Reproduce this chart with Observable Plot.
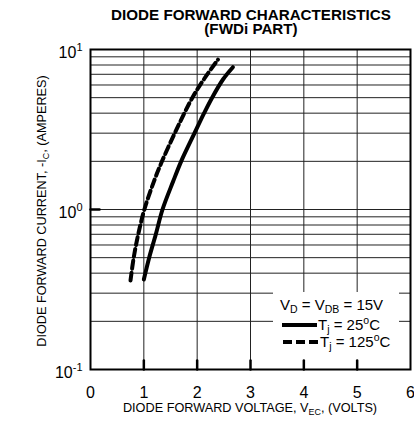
<!DOCTYPE html>
<html><head><meta charset="utf-8">
<script src="https://cdn.jsdelivr.net/npm/d3@7"></script>
<script src="https://cdn.jsdelivr.net/npm/@observablehq/plot@0.6"></script>
<style>
body{margin:0;background:#fff;}
#chart{width:414px;height:428px;}
svg text{font-family:"Liberation Sans", Arial, sans-serif;}
</style></head><body><div id="chart"></div>
<script>
// Data
const vSolid = [1.00, 1.10, 1.225, 1.35, 1.55, 1.70, 1.95, 2.13, 2.28, 2.49, 2.67];
const iSolid = [0.365, 0.5, 0.7, 1.0, 1.5, 2, 3, 4, 5, 6.54, 7.75];
const vDash  = [0.75, 0.81, 0.895, 1.01, 1.19, 1.34, 1.58, 1.76, 1.91, 2.13, 2.39];
const iDash  = [0.36, 0.5, 0.7, 1.0, 1.5, 2, 3, 4, 5, 6.54, 8.65];

const xTicks = [0, 1, 2, 3, 4, 5, 6];
const xGrid = [1, 2, 3, 4, 5];
const yTicks = [0.1, 1, 10];
const yGrid = [0.2, 0.3, 0.4, 0.5, 0.6, 0.7, 0.8, 0.9, 1, 2, 3, 4, 5, 6, 7, 8, 9];
const xTickMarks = [1, 2, 3, 4, 5];
const yTickMarks = [1];

const titleLines = ["DIODE FORWARD CHARACTERISTICS", "(FWDi PART)"];
const xLabel = "DIODE FORWARD VOLTAGE, V_EC, (VOLTS)";
const yLabel = "DIODE FORWARD CURRENT, -I_C, (AMPERES)";
const legendHeader = "V_D = V_DB = 15V";
const seriesNames = ["T_j = 25°C", "T_j = 125°C"];

const solid = vSolid.map((v, k) => ({v, i: iSolid[k]}));
const dashed = vDash.map((v, k) => ({v, i: iDash[k]}));

const tickShape = {draw(ctx, l) { ctx.moveTo(0, 0); ctx.lineTo(0, -l); }};

const plot = Plot.plot({
  width: 414, height: 428,
  marginTop: 49, marginBottom: 59, marginLeft: 90, marginRight: 4,
  style: {fontFamily: "Liberation Sans, Arial, sans-serif", background: "#fff", color: "#000"},
  x: {domain: [0, 6]},
  y: {type: "log", domain: [0.1, 10]},
  marks: [
    Plot.ruleY(yGrid, {stroke: "#222", strokeWidth: 1}),
    Plot.ruleX(xGrid, {stroke: "#222", strokeWidth: 1}),
    Plot.line(solid, {x: "v", y: "i", stroke: "black", strokeWidth: 4, curve: "catmull-rom"}),
    Plot.line(dashed, {x: "v", y: "i", stroke: "black", strokeWidth: 4, strokeDasharray: "8,4", curve: "catmull-rom"}),
    Plot.frame({stroke: "black", strokeWidth: 2}),
    Plot.vector(xTickMarks, {x: d => d, frameAnchor: "bottom", length: 9, rotate: 0, anchor: "start", shape: tickShape, stroke: "black", strokeWidth: 2.5}),
    Plot.vector(yTickMarks, {y: d => d, frameAnchor: "left", length: 9, rotate: 90, anchor: "start", shape: tickShape, stroke: "black", strokeWidth: 2.5}),
    Plot.axisX(xTicks, {tickSize: 0, tickPadding: 17, fontSize: 16, label: null, tickFormat: d => `${d}`}),
    Plot.axisY(yTicks, {tickSize: 0, tickPadding: 8, fontSize: 16, label: null, dy: 3, tickFormat: d => "10^" + Math.round(Math.log10(d))})
  ]
});
document.getElementById("chart").appendChild(plot);

const svg = d3.select(plot);
// superscript exponents on y tick labels
svg.selectAll("text").each(function() {
  const t = this.textContent;
  if (t.startsWith("10^")) {
    const s = d3.select(this);
    s.text("10");
    s.append("tspan").attr("dy", -7).attr("font-size", 11).text(t.slice(3));
  }
});

// helper: write text with _X subscripts and ° as superscript o
function richText(sel, str, size) {
  const parts = str.split(/(_[A-Za-z]+|°)/).filter(p => p.length);
  let shift = 0;
  for (const p of parts) {
    if (p.startsWith("_")) {
      sel.append("tspan").attr("dy", 3 - shift).attr("font-size", size * 0.7).text(p.slice(1));
      shift = 3;
    } else if (p === "°") {
      sel.append("tspan").attr("dy", -6 - shift).attr("font-size", size * 0.7).text("o");
      shift = -6;
    } else {
      sel.append("tspan").attr("dy", -shift).text(p);
      shift = 0;
    }
  }
}

const fx = "Liberation Sans, Arial, sans-serif";
// title
titleLines.forEach((line, k) => {
  svg.append("text").attr("x", 251).attr("y", 20 + k * 14).attr("text-anchor", "middle")
    .attr("font-size", 15.2).attr("font-weight", "bold").attr("font-family", fx).text(line);
});
// axis labels
const xl = svg.append("text").attr("x", 250).attr("y", 412).attr("text-anchor", "middle")
  .attr("font-size", 12.7).attr("font-family", fx);
richText(xl, xLabel, 12.7);
const yl = svg.append("text").attr("transform", "translate(46,211) rotate(-90)").attr("text-anchor", "middle")
  .attr("font-size", 12.7).attr("font-family", fx);
richText(yl, yLabel, 12.7);

// legend (inserted below the tick marks)
const firstVec = plot.querySelector('g[aria-label="vector"]');
const lg = d3.select(plot.insertBefore(document.createElementNS("http://www.w3.org/2000/svg", "g"), firstVec));
lg.attr("text-anchor", "start");
lg.append("rect").attr("x", 273).attr("y", 292).attr("width", 126).attr("height", 68).attr("fill", "white");
const h = lg.append("text").attr("x", 280).attr("y", 310).attr("font-size", 15).attr("font-family", fx).attr("text-anchor", "start");
richText(h, legendHeader, 15);
lg.append("line").attr("x1", 282).attr("x2", 317).attr("y1", 325).attr("y2", 325).attr("stroke", "black").attr("stroke-width", 4);
const t1 = lg.append("text").attr("x", 318).attr("y", 330).attr("font-size", 15).attr("font-family", fx).attr("text-anchor", "start");
richText(t1, seriesNames[0], 15);
lg.append("line").attr("x1", 283).attr("x2", 318).attr("y1", 342).attr("y2", 342).attr("stroke", "black").attr("stroke-width", 4).attr("stroke-dasharray", "9,4");
const t2 = lg.append("text").attr("x", 320).attr("y", 347).attr("font-size", 15).attr("font-family", fx).attr("text-anchor", "start");
richText(t2, seriesNames[1], 15);
</script></body></html>
